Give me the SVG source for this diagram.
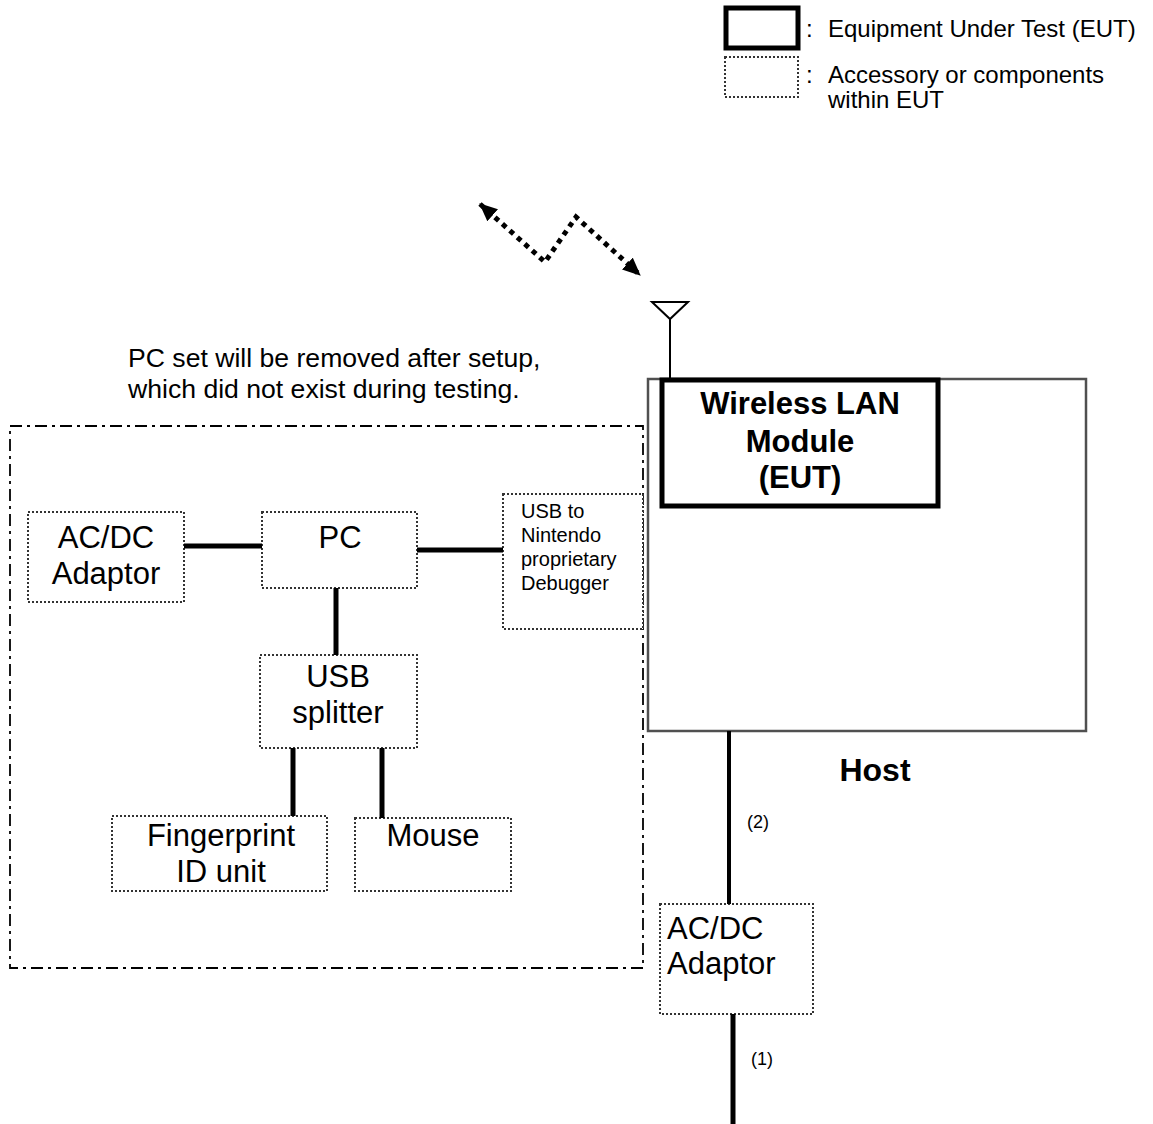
<svg xmlns="http://www.w3.org/2000/svg" width="1153" height="1124" viewBox="0 0 1153 1124">
<defs>
<marker id="arr" viewBox="0 0 18 16" refX="17" refY="8" markerWidth="18" markerHeight="16" markerUnits="userSpaceOnUse" orient="auto-start-reverse">
<path d="M0,0 L18,8 L0,16 z" fill="#000"/>
</marker>
<style>
text{font-family:"Liberation Sans",Arial,sans-serif;fill:#000}
.acc{fill:#fff;stroke:#333;stroke-width:2;stroke-dasharray:2 2}
.eut{fill:#fff;stroke:#000;stroke-width:5}
.host{fill:#fff;stroke:#505050;stroke-width:2.5}
.frame{fill:none;stroke:#000;stroke-width:1.8;stroke-dasharray:12 5 3 5}
.cab{stroke:#000;stroke-width:5;fill:none}
.thin{stroke:#000;stroke-width:2;fill:none}
.lbl{font-size:31px}
.sm{font-size:20px}
.leg{font-size:24px}
.bold{font-size:31px;font-weight:bold}
.num{font-size:18px}
.c{text-anchor:middle}
</style>
</defs>

<g id="legend">
<rect x="726" y="8" width="72" height="40" class="eut"/>
<text x="806" y="37" class="leg">:</text>
<text x="828" y="37" class="leg">Equipment Under Test (EUT)</text>
<rect x="725" y="57" width="73" height="40" class="acc"/>
<text x="806" y="83" class="leg">:</text>
<text x="828" y="83" class="leg">Accessory or components</text>
<text x="828" y="108" class="leg">within EUT</text>
</g>

<g id="note">
<text x="128" y="367" style="font-size:26.6px">PC set will be removed after setup,</text>
<text x="128" y="398" style="font-size:26.6px">which did not exist during testing.</text>
</g>

<g id="pc-set-frame">
<rect x="10" y="426" width="633" height="542" class="frame"/>
</g>

<g id="host">
<rect x="648" y="379" width="438" height="352" class="host"/>
<text x="875" y="781" class="bold c" style="font-size:32px">Host</text>
</g>

<g id="eut">
<rect x="662" y="380" width="276" height="126" class="eut"/>
<text x="800" y="414" class="bold c">Wireless LAN</text>
<text x="800" y="452" class="bold c">Module</text>
<text x="800" y="488" class="bold c">(EUT)</text>
</g>

<g id="antenna">
<path d="M652,302 L688,302 L670,319 Z" class="thin" fill="#fff"/>
<line x1="670" y1="319" x2="670" y2="378" class="thin"/>
</g>

<g id="adaptor-left">
<rect x="28" y="512" width="156" height="90" class="acc"/>
<text x="106" y="548" class="lbl c">AC/DC</text>
<text x="106" y="584" class="lbl c">Adaptor</text>
</g>

<g id="pc">
<rect x="262" y="512" width="155" height="76" class="acc"/>
<text x="340" y="548" class="lbl c">PC</text>
</g>

<g id="debugger">
<rect x="503" y="494" width="140" height="135" class="acc"/>
<text x="521" y="518" class="sm">USB to</text>
<text x="521" y="542" class="sm">Nintendo</text>
<text x="521" y="566" class="sm">proprietary</text>
<text x="521" y="590" class="sm">Debugger</text>
</g>

<g id="usb-splitter">
<rect x="260" y="655" width="157" height="93" class="acc"/>
<text x="338" y="687" class="lbl c">USB</text>
<text x="338" y="723" class="lbl c">splitter</text>
</g>

<g id="fingerprint">
<rect x="112" y="816" width="215" height="75" class="acc"/>
<text x="221" y="846" class="lbl c">Fingerprint</text>
<text x="221" y="882" class="lbl c">ID unit</text>
</g>

<g id="mouse">
<rect x="355" y="818" width="156" height="73" class="acc"/>
<text x="433" y="846" class="lbl c">Mouse</text>
</g>

<g id="adaptor-right">
<rect x="660" y="904" width="153" height="110" class="acc"/>
<text x="667" y="939" class="lbl">AC/DC</text>
<text x="667" y="974" class="lbl">Adaptor</text>
</g>

<g id="connectors">
<polyline points="480,204 545,262 576,217 640,275" fill="none" stroke="#000" stroke-width="5" stroke-dasharray="5 5" marker-start="url(#arr)" marker-end="url(#arr)"/>
<line x1="184" y1="546" x2="262" y2="546" class="cab"/>
<line x1="417" y1="550" x2="503" y2="550" class="cab"/>
<line x1="336" y1="588" x2="336" y2="655" class="cab"/>
<line x1="293" y1="748" x2="293" y2="816" class="cab"/>
<line x1="382" y1="748" x2="382" y2="818" class="cab"/>
<line x1="729" y1="731" x2="729" y2="904" class="thin" style="stroke-width:4"/>
<line x1="733" y1="1014" x2="733" y2="1124" class="cab"/>
<text x="747" y="828" class="num">(2)</text>
<text x="751" y="1065" class="num">(1)</text>
</g>
</svg>
